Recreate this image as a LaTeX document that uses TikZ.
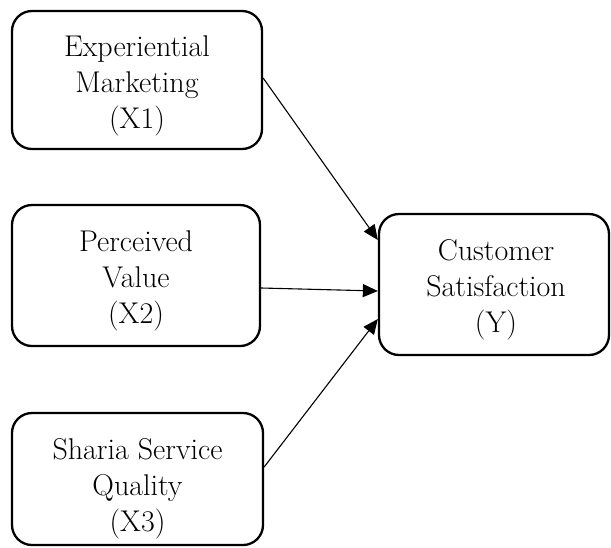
\documentclass[tikz,border=0pt]{standalone}
\usetikzlibrary{arrows.meta}
\begin{document}
\begin{tikzpicture}[x=1pt,y=-1pt,
  varbox/.style={draw=black, line width=2.3pt, rounded corners=20pt, inner sep=0pt},
  label/.style={align=center, font=\fontsize{30}{36}\selectfont, inner sep=0pt},
  link/.style={line width=1.1pt, -{Triangle[length=15pt,width=13pt]}}]
  \useasboundingbox (0,0) rectangle (611,547);

  % variable boxes
  \node[varbox, minimum width=250pt, minimum height=138pt] (x1) at (137,80) {};
  \node[varbox, minimum width=248pt, minimum height=141pt] (x2) at (136,275.5) {};
  \node[varbox, minimum width=251pt, minimum height=132pt] (x3) at (137.5,479) {};
  \node[varbox, minimum width=230pt, minimum height=141pt] (y)  at (494,284.5) {};

  % box texts
  \node[label] (tx1) at (137,86) {Experiential\\Marketing\\(X1)};
  \node[label] (tx2) at (136,281) {Perceived\\Value\\(X2)};
  \node[label] (tx3) at (137.5,489) {Sharia Service\\Quality\\(X3)};
  \node[label] (ty)  at (496,290) {Customer\\Satisfaction\\(Y)};

  % paths into the dependent variable
  \draw[link] ([yshift=2pt]x1.east) -- ([yshift=44.5pt]y.west);
  \draw[link] ([yshift=-12.5pt]x2.east) -- ([yshift=-6.5pt]y.west);
  \draw[link] ([yshift=12pt]x3.east) -- ([yshift=-34.5pt]y.west);
\end{tikzpicture}
\end{document}
